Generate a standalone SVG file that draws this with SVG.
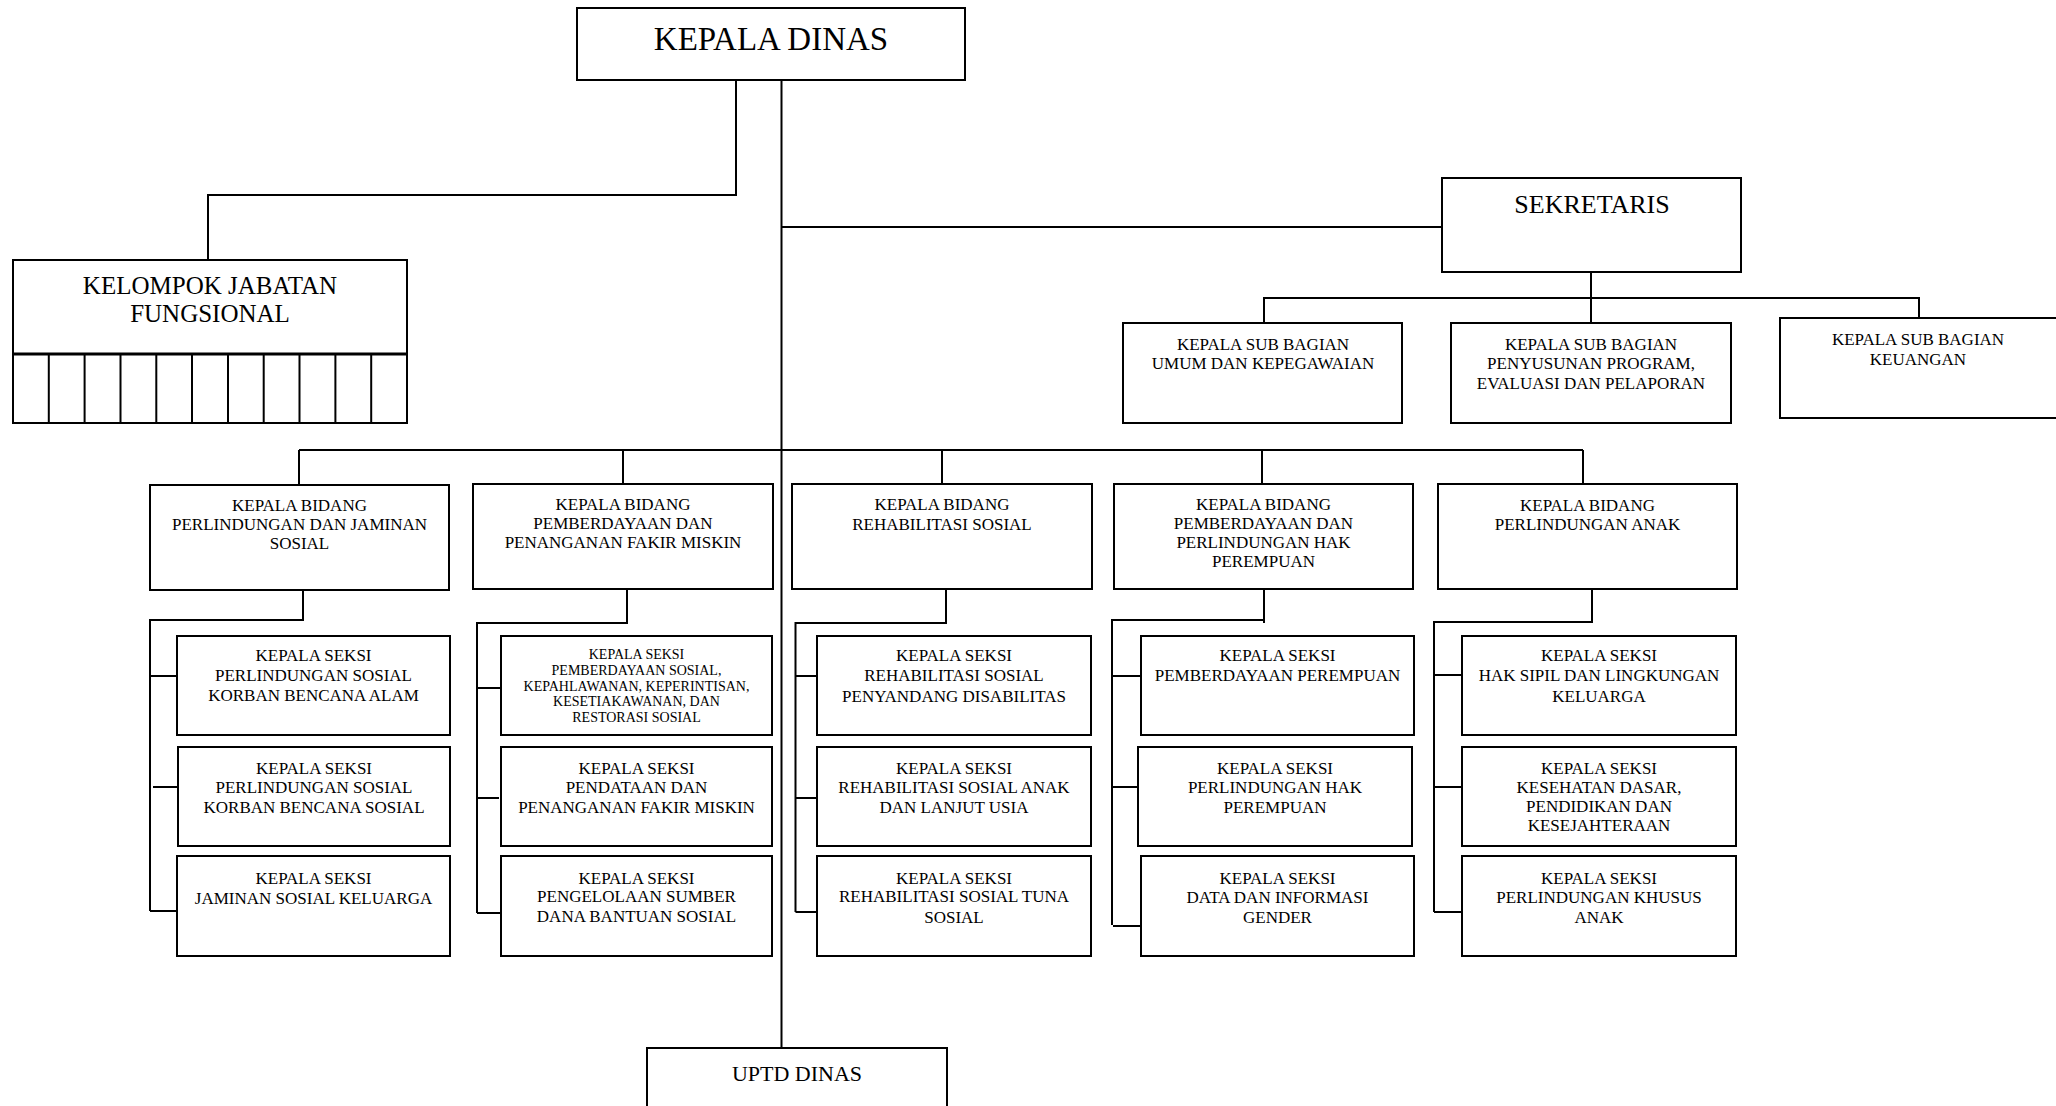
<svg xmlns="http://www.w3.org/2000/svg" width="2056" height="1106" viewBox="0 0 2056 1106">
<style>
.box{fill:#fff;stroke:#000;stroke-width:2}
.ln{fill:none;stroke:#000;stroke-width:2}
text{font-family:"Liberation Serif","Times New Roman",serif;fill:#000;text-anchor:middle}
.t17{font-size:17px}
.t14{font-size:14px}
</style>
<rect width="2056" height="1106" fill="#fff"/>
<g id="connectors">
<polyline class="ln" points="736,80 736,195 208,195 208,260"/>
<line class="ln" x1="781.5" y1="80" x2="781.5" y2="1048"/>
<line class="ln" x1="781.5" y1="227" x2="1442" y2="227"/>
<line class="ln" x1="1591" y1="272" x2="1591" y2="322"/>
<polyline class="ln" points="1264,322 1264,298 1919,298 1919,318"/>
<line class="ln" x1="299" y1="450" x2="1583" y2="450"/>
<line class="ln" x1="299" y1="450" x2="299" y2="485"/>
<line class="ln" x1="623" y1="450" x2="623" y2="484"/>
<line class="ln" x1="942" y1="450" x2="942" y2="484"/>
<line class="ln" x1="1262" y1="450" x2="1262" y2="484"/>
<line class="ln" x1="1583" y1="450" x2="1583" y2="484"/>
<!-- col 1 -->
<polyline class="ln" points="303,590 303,620 150,620 150,911"/>
<line class="ln" x1="150" y1="676" x2="177" y2="676"/>
<line class="ln" x1="153" y1="787" x2="178" y2="787"/>
<line class="ln" x1="150" y1="911" x2="177" y2="911"/>
<!-- col 2 -->
<polyline class="ln" points="627,589 627,623 477,623 477,913"/>
<line class="ln" x1="477" y1="688" x2="501" y2="688"/>
<line class="ln" x1="477" y1="798" x2="499" y2="798"/>
<line class="ln" x1="477" y1="913" x2="501" y2="913"/>
<!-- col 3 -->
<polyline class="ln" points="946,589 946,623 795.5,623 795.5,912"/>
<line class="ln" x1="795.5" y1="676" x2="817" y2="676"/>
<line class="ln" x1="795.5" y1="798" x2="817" y2="798"/>
<line class="ln" x1="795.5" y1="912" x2="817" y2="912"/>
<!-- col 4 -->
<polyline class="ln" points="1264,589 1264,623"/>
<polyline class="ln" points="1264,620 1112,620 1112,925"/>
<line class="ln" x1="1112" y1="676" x2="1141" y2="676"/>
<line class="ln" x1="1112" y1="787" x2="1138" y2="787"/>
<line class="ln" x1="1113" y1="926" x2="1141" y2="926"/>
<!-- col 5 -->
<polyline class="ln" points="1592,589 1592,622 1434,622 1434,912"/>
<line class="ln" x1="1434" y1="675" x2="1462" y2="675"/>
<line class="ln" x1="1434" y1="787" x2="1462" y2="787"/>
<line class="ln" x1="1434" y1="912" x2="1462" y2="912"/>
</g>

<g id="kepala-dinas">
<rect class="box" x="577" y="8" width="388" height="72"/>
<text x="771" y="50" style="font-size:33px">KEPALA DINAS</text>
</g>

<g id="kelompok-jabatan-fungsional">
<rect class="box" x="13" y="260" width="394" height="163"/>
<line x1="13" y1="354" x2="407" y2="354" stroke="#000" stroke-width="3"/>
<path class="ln" d="M48.8,354V423M84.6,354V423M120.5,354V423M156.3,354V423M192,354V423M228,354V423M263.7,354V423M299.5,354V423M335.4,354V423M371.2,354V423"/>
<text x="210" y="294" style="font-size:25px">KELOMPOK JABATAN</text>
<text x="210" y="322" style="font-size:25px">FUNGSIONAL</text>
</g>

<g id="sekretaris">
<rect class="box" x="1442" y="178" width="299" height="94"/>
<text x="1592" y="212.5" style="font-size:26px">SEKRETARIS</text>
</g>

<g id="subbag-umum">
<rect class="box" x="1123" y="323" width="279" height="100"/>
<text class="t17" x="1263" y="349.6">KEPALA SUB BAGIAN</text>
<text class="t17" x="1263" y="368.6">UMUM DAN KEPEGAWAIAN</text>
</g>
<g id="subbag-program">
<rect class="box" x="1451" y="323" width="280" height="100"/>
<text class="t17" x="1591" y="349.6">KEPALA SUB BAGIAN</text>
<text class="t17" x="1591" y="368.6">PENYUSUNAN PROGRAM,</text>
<text class="t17" x="1591" y="388.6">EVALUASI DAN PELAPORAN</text>
</g>
<g id="subbag-keuangan">
<rect class="box" x="1780" y="318" width="300" height="100"/>
<text class="t17" x="1918" y="344.6">KEPALA SUB BAGIAN</text>
<text class="t17" x="1918" y="364.6">KEUANGAN</text>
</g>

<g id="bidang-1">
<rect class="box" x="150" y="485" width="299" height="105"/>
<text class="t17" x="299.5" y="510.6">KEPALA BIDANG</text>
<text class="t17" x="299.5" y="529.6">PERLINDUNGAN DAN JAMINAN</text>
<text class="t17" x="299.5" y="548.6">SOSIAL</text>
</g>
<g id="bidang-2">
<rect class="box" x="473" y="484" width="300" height="105"/>
<text class="t17" x="623" y="509.6">KEPALA BIDANG</text>
<text class="t17" x="623" y="528.6">PEMBERDAYAAN DAN</text>
<text class="t17" x="623" y="547.6">PENANGANAN FAKIR MISKIN</text>
</g>
<g id="bidang-3">
<rect class="box" x="792" y="484" width="300" height="105"/>
<text class="t17" x="942" y="509.6">KEPALA BIDANG</text>
<text class="t17" x="942" y="529.6">REHABILITASI SOSIAL</text>
</g>
<g id="bidang-4">
<rect class="box" x="1114" y="484" width="299" height="105"/>
<text class="t17" x="1263.5" y="509.6">KEPALA BIDANG</text>
<text class="t17" x="1263.5" y="528.6">PEMBERDAYAAN DAN</text>
<text class="t17" x="1263.5" y="547.6">PERLINDUNGAN HAK</text>
<text class="t17" x="1263.5" y="566.6">PEREMPUAN</text>
</g>
<g id="bidang-5">
<rect class="box" x="1438" y="484" width="299" height="105"/>
<text class="t17" x="1587.5" y="510.6">KEPALA BIDANG</text>
<text class="t17" x="1587.5" y="529.6">PERLINDUNGAN ANAK</text>
</g>

<g id="seksi-1a">
<rect class="box" x="177" y="636" width="273" height="99"/>
<text class="t17" x="313.5" y="660.6">KEPALA SEKSI</text>
<text class="t17" x="313.5" y="680.6">PERLINDUNGAN SOSIAL</text>
<text class="t17" x="313.5" y="700.6">KORBAN BENCANA ALAM</text>
</g>
<g id="seksi-1b">
<rect class="box" x="178" y="747" width="272" height="99"/>
<text class="t17" x="314" y="773.6">KEPALA SEKSI</text>
<text class="t17" x="314" y="792.6">PERLINDUNGAN SOSIAL</text>
<text class="t17" x="314" y="812.6">KORBAN BENCANA  SOSIAL</text>
</g>
<g id="seksi-1c">
<rect class="box" x="177" y="856" width="273" height="100"/>
<text class="t17" x="313.5" y="883.6">KEPALA SEKSI</text>
<text class="t17" x="313.5" y="903.6">JAMINAN SOSIAL KELUARGA</text>
</g>

<g id="seksi-2a">
<rect class="box" x="501" y="636" width="271" height="99"/>
<text class="t14" x="636.5" y="658.6">KEPALA SEKSI</text>
<text class="t14" x="636.5" y="674.6">PEMBERDAYAAN SOSIAL,</text>
<text class="t14" x="636.5" y="690.6">KEPAHLAWANAN, KEPERINTISAN,</text>
<text class="t14" x="636.5" y="705.6">KESETIAKAWANAN, DAN</text>
<text class="t14" x="636.5" y="721.6">RESTORASI SOSIAL</text>
</g>
<g id="seksi-2b">
<rect class="box" x="501" y="747" width="271" height="99"/>
<text class="t17" x="636.5" y="773.6">KEPALA SEKSI</text>
<text class="t17" x="636.5" y="792.6">PENDATAAN DAN</text>
<text class="t17" x="636.5" y="812.6">PENANGANAN FAKIR MISKIN</text>
</g>
<g id="seksi-2c">
<rect class="box" x="501" y="856" width="271" height="100"/>
<text class="t17" x="636.5" y="883.6">KEPALA SEKSI</text>
<text class="t17" x="636.5" y="901.6">PENGELOLAAN SUMBER</text>
<text class="t17" x="636.5" y="921.6">DANA BANTUAN SOSIAL</text>
</g>

<g id="seksi-3a">
<rect class="box" x="817" y="636" width="274" height="99"/>
<text class="t17" x="954" y="660.6">KEPALA SEKSI</text>
<text class="t17" x="954" y="680.6">REHABILITASI SOSIAL</text>
<text class="t17" x="954" y="701.6">PENYANDANG DISABILITAS</text>
</g>
<g id="seksi-3b">
<rect class="box" x="817" y="747" width="274" height="99"/>
<text class="t17" x="954" y="773.6">KEPALA SEKSI</text>
<text class="t17" x="954" y="792.6">REHABILITASI SOSIAL ANAK</text>
<text class="t17" x="954" y="812.6">DAN LANJUT USIA</text>
</g>
<g id="seksi-3c">
<rect class="box" x="817" y="856" width="274" height="100"/>
<text class="t17" x="954" y="883.6">KEPALA SEKSI</text>
<text class="t17" x="954" y="901.6">REHABILITASI SOSIAL TUNA</text>
<text class="t17" x="954" y="922.6">SOSIAL</text>
</g>

<g id="seksi-4a">
<rect class="box" x="1141" y="636" width="273" height="99"/>
<text class="t17" x="1277.5" y="660.6">KEPALA SEKSI</text>
<text class="t17" x="1277.5" y="680.6">PEMBERDAYAAN PEREMPUAN</text>
</g>
<g id="seksi-4b">
<rect class="box" x="1138" y="747" width="274" height="99"/>
<text class="t17" x="1275" y="773.6">KEPALA SEKSI</text>
<text class="t17" x="1275" y="792.6">PERLINDUNGAN HAK</text>
<text class="t17" x="1275" y="812.6">PEREMPUAN</text>
</g>
<g id="seksi-4c">
<rect class="box" x="1141" y="856" width="273" height="100"/>
<text class="t17" x="1277.5" y="883.6">KEPALA SEKSI</text>
<text class="t17" x="1277.5" y="902.6">DATA DAN INFORMASI</text>
<text class="t17" x="1277.5" y="922.6">GENDER</text>
</g>

<g id="seksi-5a">
<rect class="box" x="1462" y="636" width="274" height="99"/>
<text class="t17" x="1599" y="660.6">KEPALA SEKSI</text>
<text class="t17" x="1599" y="680.6">HAK SIPIL DAN LINGKUNGAN</text>
<text class="t17" x="1599" y="701.6">KELUARGA</text>
</g>
<g id="seksi-5b">
<rect class="box" x="1462" y="747" width="274" height="99"/>
<text class="t17" x="1599" y="773.6">KEPALA SEKSI</text>
<text class="t17" x="1599" y="792.6">KESEHATAN DASAR,</text>
<text class="t17" x="1599" y="811.6">PENDIDIKAN DAN</text>
<text class="t17" x="1599" y="830.6">KESEJAHTERAAN</text>
</g>
<g id="seksi-5c">
<rect class="box" x="1462" y="856" width="274" height="100"/>
<text class="t17" x="1599" y="883.6">KEPALA SEKSI</text>
<text class="t17" x="1599" y="902.6">PERLINDUNGAN KHUSUS</text>
<text class="t17" x="1599" y="922.6">ANAK</text>
</g>

<g id="uptd-dinas">
<rect class="box" x="647" y="1048" width="300" height="80"/>
<text x="797" y="1081" style="font-size:22px">UPTD DINAS</text>
</g>
</svg>
